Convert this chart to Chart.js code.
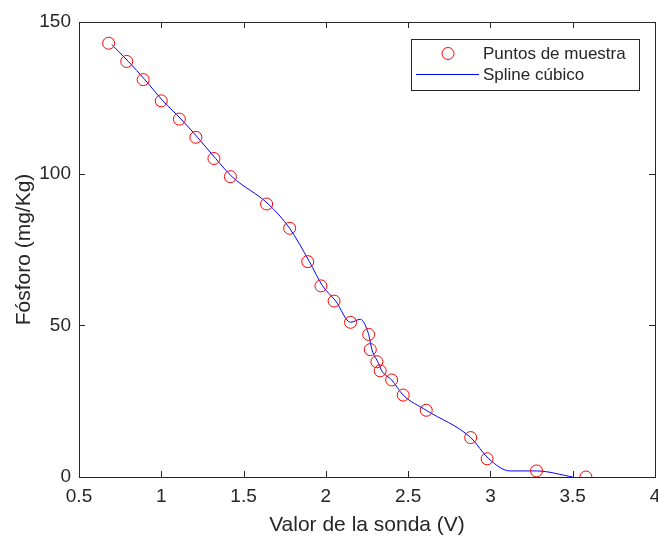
<!DOCTYPE html>
<html>
<head>
<meta charset="utf-8">
<script src="https://cdn.jsdelivr.net/npm/chart.js@4"></script>
<style>
  html, body { margin: 0; padding: 0; background: #fff; }
  #wrap { width: 658px; height: 538px; }
</style>
</head>
<body>
<div id="wrap"><canvas id="graph" width="658" height="538"></canvas></div>
<script>
// sample points (red circles)
var sampleX = [0.68, 0.79, 0.89, 1.00, 1.11, 1.21, 1.32, 1.42, 1.64, 1.78, 1.89, 1.97, 2.05,
               2.15, 2.26, 2.27, 2.31, 2.33, 2.40, 2.47, 2.61, 2.88, 2.98, 3.28, 3.58];
var sampleY = [143, 137, 131, 124, 118, 112, 105, 99, 90, 82, 71, 63, 58,
               51, 47, 42, 38, 35, 32, 27, 22, 13, 6, 2, 0];

// knots of the blue spline
var splineX = [0.70, 0.80, 0.90, 1.01, 1.12, 1.22, 1.33, 1.43, 1.65, 1.78, 1.90, 1.98, 2.06,
               2.15, 2.21, 2.26, 2.28, 2.32, 2.34, 2.40, 2.47, 2.61, 2.88, 2.99, 3.12, 3.28, 3.50];
var splineY = [142.5, 137, 131, 124, 118, 112, 105, 99, 90, 82, 71, 63, 58,
               51, 52, 47, 42, 37.5, 35, 32, 27, 22, 13, 6, 2, 2, 0];

var xTicks = [0.5, 1, 1.5, 2, 2.5, 3, 3.5, 4];
var yTicks = [0, 50, 100, 150];

var legendLabels = ["Puntos de muestra", "Spline cúbico"];

var ink = "#262626";
var fontFamily = "'Liberation Sans', Arial, sans-serif";

function pairs(xs, ys) {
    var out = [];
    for (var i = 0; i < xs.length; i++) out.push({x: xs[i], y: ys[i]});
    return out;
}

// box round the axes with the ticks pointing inward, matlab style
var boxPlugin = {
    id: "box",
    afterDraw: function(chart) {
        var ctx = chart.ctx, a = chart.chartArea;
        var sx = chart.scales.x, sy = chart.scales.y;
        ctx.save();
        ctx.strokeStyle = ink;
        ctx.lineWidth = 1;
        ctx.strokeRect(Math.round(a.left) + 0.5, Math.round(a.top) + 0.5,
                       Math.round(a.right - a.left), Math.round(a.bottom - a.top));
        ctx.beginPath();
        xTicks.forEach(function(v) {
            var px = Math.round(sx.getPixelForValue(v)) + 0.5;
            ctx.moveTo(px, a.bottom); ctx.lineTo(px, a.bottom - 6);
            ctx.moveTo(px, a.top); ctx.lineTo(px, a.top + 6);
        });
        yTicks.forEach(function(v) {
            var py = Math.round(sy.getPixelForValue(v)) + 0.5;
            ctx.moveTo(a.left, py); ctx.lineTo(a.left + 6, py);
            ctx.moveTo(a.right, py); ctx.lineTo(a.right - 6, py);
        });
        ctx.stroke();
        ctx.restore();
    }
};

var legendPlugin = {
    id: "boxLegend",
    afterDraw: function(chart) {
        var ctx = chart.ctx;
        var ds = chart.data.datasets;
        ctx.save();
        ctx.fillStyle = "#fff";
        ctx.fillRect(411, 39, 228, 51);
        ctx.strokeStyle = ink;
        ctx.lineWidth = 1;
        ctx.strokeRect(411.5, 39.5, 228, 51);
        // marker for sample points
        ctx.strokeStyle = ds[0].borderColor;
        ctx.beginPath();
        ctx.arc(448, 53.5, 6, 0, Math.PI * 2);
        ctx.stroke();
        // line for spline
        ctx.strokeStyle = ds[1].borderColor;
        ctx.beginPath();
        ctx.moveTo(416, 74.5); ctx.lineTo(479, 74.5);
        ctx.stroke();
        ctx.fillStyle = ink;
        ctx.font = "17px " + fontFamily;
        ctx.textBaseline = "middle";
        ctx.fillText(legendLabels[0], 483, 54);
        ctx.fillText(legendLabels[1], 483, 75);
        ctx.restore();
    }
};

var ctx = document.getElementById("graph").getContext("2d");
var chart = new Chart(ctx, {
    type: "scatter",
    data: {
        datasets: [{
            label: legendLabels[0],
            data: pairs(sampleX, sampleY),
            showLine: false,
            pointStyle: "circle",
            pointRadius: 6,
            pointBorderWidth: 1,
            borderColor: "#ff0000",
            backgroundColor: "rgba(0,0,0,0)",
            pointBackgroundColor: "rgba(0,0,0,0)"
        }, {
            label: legendLabels[1],
            data: pairs(splineX, splineY),
            showLine: true,
            pointRadius: 0,
            borderColor: "#0000ff",
            borderWidth: 1,
            cubicInterpolationMode: "monotone",
            fill: false
        }]
    },
    options: {
        responsive: false,
        animation: false,
        // markers may overflow the plot box, like in matlab
        layout: { autoPadding: false, padding: { left: 0, right: 3, top: 22, bottom: 0 } },
        plugins: { legend: { display: false }, tooltip: { enabled: false } },
        scales: {
            x: {
                type: "linear",
                min: 0.5, max: 4,
                afterBuildTicks: function(s) { s.ticks = xTicks.map(function(v) { return {value: v}; }); },
                afterFit: function(s) { s.height = 61; s.paddingLeft = 0; s.paddingRight = 0; },
                grid: { display: false, drawTicks: false },
                border: { display: false },
                ticks: {
                    padding: 8,
                    color: ink,
                    font: { family: fontFamily, size: 19 },
                    maxRotation: 0,
                    callback: function(v) { return String(v); }
                },
                title: {
                    display: true,
                    text: "Valor de la sonda (V)",
                    color: ink,
                    font: { family: fontFamily, size: 21 },
                    padding: { top: 0, bottom: 0 }
                }
            },
            y: {
                type: "linear",
                min: 0, max: 150,
                afterBuildTicks: function(s) { s.ticks = yTicks.map(function(v) { return {value: v}; }); },
                afterFit: function(s) { s.width = 79; s.paddingTop = 0; s.paddingBottom = 0; },
                grid: { display: false, drawTicks: false },
                border: { display: false },
                ticks: {
                    padding: 8,
                    color: ink,
                    font: { family: fontFamily, size: 19 },
                    callback: function(v) { return String(v); }
                },
                title: {
                    display: true,
                    text: "Fósforo (mg/Kg)",
                    color: ink,
                    font: { family: fontFamily, size: 21 },
                    padding: { top: 12, bottom: 0 }
                }
            }
        }
    },
    plugins: [boxPlugin, legendPlugin]
});
</script>
</body>
</html>
